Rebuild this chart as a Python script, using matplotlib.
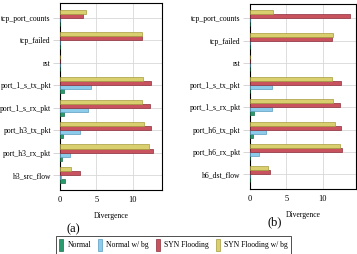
import matplotlib
matplotlib.use("Agg")
import matplotlib.pyplot as plt
import numpy as np

plt.rcParams['font.family'] = ['Liberation Serif', 'DejaVu Serif']

FONT_SIZE = 5.5
BAR_H = 0.18

labels_a = ["tcp_port_counts", "tcp_failed", "rst", "port_1_s_tx_pkt",
            "port_1_s_rx_pkt", "port_h3_tx_pkt", "port_h3_rx_pkt", "h3_src_flow"]
labels_b = ["tcp_port_counts", "tcp_failed", "rst", "port_1_s_tx_pkt",
            "port_1_s_rx_pkt", "port_h6_tx_pkt", "port_h6_rx_pkt", "h6_dst_flow"]

series = ["Normal", "Normal w/ bg", "SYN Flooding", "SYN Flooding w/ bg"]
colors = ["#2a9a6c", "#8ccbea", "#c9525f", "#d9cf6e"]
edges = ["#1d6e4c", "#5a9cc0", "#8e2f3b", "#a69a3c"]

# (a)
normal_a = [0.05, 0.0, 0.0, 0.5, 0.55, 0.45, 0.3, 0.75]
normal_bg_a = [0.0, 0.0, 0.0, 4.2, 3.8, 2.7, 1.4, 0.1]
syn_a = [3.2, 11.3, 0.0, 12.5, 12.3, 12.5, 12.7, 2.7]
syn_bg_a = [3.5, 11.2, 0.0, 11.4, 11.2, 11.5, 12.2, 1.5]

# (b)
normal_b = [0.0, 0.0, 0.0, 0.0, 0.5, 0.45, 0.0, 0.0]
normal_bg_b = [0.0, 0.0, 0.0, 3.1, 3.0, 2.2, 1.2, 0.05]
syn_b = [13.8, 11.2, 0.0, 12.5, 12.4, 12.5, 12.7, 2.7]
syn_bg_b = [3.2, 11.4, 0.0, 11.3, 11.4, 11.7, 12.3, 2.55]


def draw(ax, labels, data, xmax):
    y = np.arange(len(labels))
    offsets = [1.5, 0.5, -0.5, -1.5]
    for vals, off, c, e, name in zip(data, offsets, colors, edges, series):
        ax.barh(y + off * BAR_H, vals, height=BAR_H, color=c,
                edgecolor=e, linewidth=0.5, label=name, zorder=3)
    ax.set_yticks(y)
    ax.set_yticklabels(labels, fontsize=FONT_SIZE)
    ax.set_ylim(len(labels) - 1 + 0.67, -0.67)
    ax.set_xlim(0, xmax)
    ax.set_xticks([0, 5, 10])
    ax.tick_params(axis="x", length=0, labelsize=FONT_SIZE + 0.5, pad=4)
    ax.tick_params(axis="y", length=5, color="#d0d0d0", width=0.6, pad=1.5)
    ax.grid(True, color="#d8d8d8", linewidth=0.6, zorder=0)
    ax.set_axisbelow(True)
    for spine in ax.spines.values():
        spine.set_linewidth(0.8)
    ax.set_xlabel("Divergence", fontsize=FONT_SIZE, labelpad=6)


fig = plt.figure(figsize=(3.57, 2.54), dpi=100)
ax_a = fig.add_axes([0.168, 0.252, 0.286, 0.736])
ax_b = fig.add_axes([0.700, 0.256, 0.298, 0.730])

draw(ax_a, labels_a, [normal_a, normal_bg_a, syn_a, syn_bg_a], 14.0)
draw(ax_b, labels_b, [normal_b, normal_bg_b, syn_b, syn_bg_b], 14.6)

fig.text(0.204, 0.098, "(a)", fontsize=9, ha="center", va="center")
fig.text(0.770, 0.126, "(b)", fontsize=9, ha="center", va="center")

handles, names = ax_a.get_legend_handles_labels()
leg = fig.legend(handles, names, loc="upper left", bbox_to_anchor=(0.157, 0.071),
                 ncol=4, fontsize=FONT_SIZE, frameon=True, fancybox=False,
                 edgecolor="black", handlelength=0.5, handleheight=2.0,
                 handletextpad=0.6, columnspacing=0.9, borderpad=0.4,
                 borderaxespad=0)
leg.get_frame().set_linewidth(0.6)

fig.savefig("out.png", dpi=100)
